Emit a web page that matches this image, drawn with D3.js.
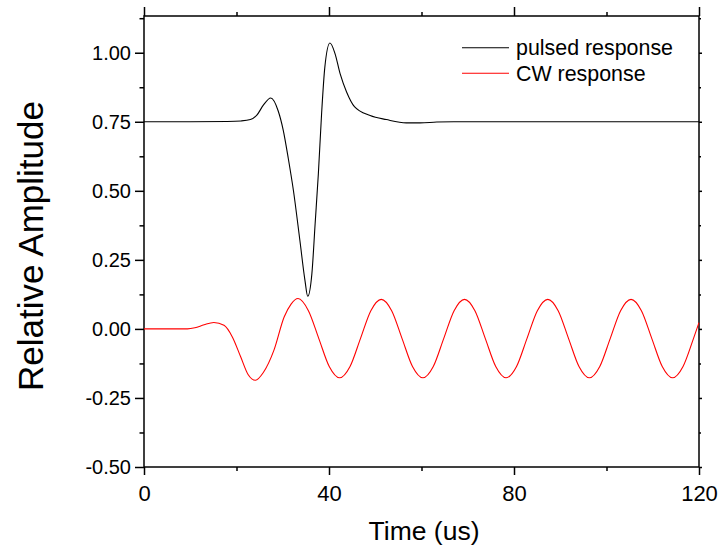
<!DOCTYPE html>
<html>
<head>
<meta charset="utf-8">
<script src="https://cdn.jsdelivr.net/npm/d3@7"></script>
<style>
  body { margin: 0; background: #fff; }
  text { font-family: "Liberation Sans", Arial, sans-serif; fill: #000; }
</style>
</head>
<body>
<div id="chart"></div>
<script>
// pulsed response (black)
var pulsedT = [0, 10, 18, 21, 23, 24.4, 25.8, 27.4, 29.0, 30.1, 31.2, 32.3, 33.7, 34.8, 35.4,
  36.3, 37.0, 37.7, 38.4, 39.1, 40.2, 41.3, 42.4, 43.8, 45.5, 48.9, 52.4, 56.7, 59.7, 63.3, 67, 120];
var pulsedV = [0.75, 0.75, 0.751, 0.753, 0.758, 0.774, 0.81, 0.836, 0.79, 0.72, 0.617, 0.502, 0.321, 0.176, 0.118,
  0.20, 0.381, 0.562, 0.78, 0.948, 1.035, 0.997, 0.924, 0.858, 0.805, 0.773, 0.758, 0.746, 0.746, 0.749, 0.75, 0.75];

// CW response (red)
var cwT = [0, 9.4, 11, 13, 15.1, 17.3, 19.1, 20.9, 22.5, 24.1, 25.8, 28.1, 30.3, 31.8, 33.3,
  35.55, 37.8, 40.05, 42.3, 44.55, 46.8, 49.05, 51.3,
  53.55, 55.8, 58.05, 60.3, 62.55, 64.8, 67.05, 69.3,
  71.55, 73.8, 76.05, 78.3, 80.55, 82.8, 85.05, 87.3,
  89.55, 91.8, 94.05, 96.3, 98.55, 100.8, 103.05, 105.3,
  107.55, 109.8, 112.05, 114.3, 116.55, 118.8, 120];
var cwV = [0, 0, 0.004, 0.015, 0.023, 0.013, -0.029, -0.101, -0.165, -0.186, -0.158, -0.077, 0.043, 0.09, 0.110,
  0.066, -0.035, -0.136, -0.177, -0.136, -0.035, 0.066, 0.107,
  0.066, -0.035, -0.136, -0.177, -0.136, -0.035, 0.066, 0.107,
  0.066, -0.035, -0.136, -0.177, -0.136, -0.035, 0.066, 0.107,
  0.066, -0.035, -0.136, -0.177, -0.136, -0.035, 0.066, 0.107,
  0.066, -0.035, -0.136, -0.177, -0.136, -0.035, 0.023];

var xTicks = [0, 40, 80, 120];
var xMinor = [20, 60, 100];
var yTicks = [-0.5, -0.25, 0, 0.25, 0.5, 0.75, 1.0];
var yMinor = [-0.375, -0.125, 0.125, 0.375, 0.625, 0.875, 1.125];
var seriesNames = ['pulsed response', 'CW response'];
var seriesColors = ['#000000', '#ff0000'];

var pLeft = 144, pTop = 16, pRight = 699, pBottom = 467;

var svg = d3.select('#chart').append('svg')
  .attr('width', 720).attr('height', 550);

var x = d3.scaleLinear().domain([0, 120]).range([pLeft, pRight]);
var y = d3.scaleLinear().domain([-0.5, 1.133]).range([pBottom, pTop]);

// plain hyphen for negatives, like the original
var loc = d3.formatLocale({decimal: '.', thousands: ',', grouping: [3], currency: ['', ''], minus: '-'});

// axes: major + minor ticks on all four sides, ticks pointing out
function drawAxis(axis, tr) {
  var g = svg.append('g').attr('transform', tr).call(axis);
  g.select('.domain').remove();
  g.selectAll('line').attr('stroke', '#000').attr('stroke-width', 1.5);
  return g;
}

var gx = drawAxis(d3.axisBottom(x).tickValues(xTicks).tickSize(8).tickPadding(10).tickFormat(loc.format('d')),
  'translate(0,' + pBottom + ')');
gx.selectAll('text').style('font-size', '22px');
drawAxis(d3.axisBottom(x).tickValues(xMinor).tickSize(4).tickFormat(''), 'translate(0,' + pBottom + ')');
drawAxis(d3.axisTop(x).tickValues(xTicks).tickSize(9).tickFormat(''), 'translate(0,' + pTop + ')');
drawAxis(d3.axisTop(x).tickValues(xMinor).tickSize(4).tickFormat(''), 'translate(0,' + pTop + ')');

var gy = drawAxis(d3.axisLeft(y).tickValues(yTicks).tickSize(9).tickPadding(4).tickFormat(loc.format('.2f')),
  'translate(' + pLeft + ',0)');
gy.selectAll('text').style('font-size', '20px');
drawAxis(d3.axisLeft(y).tickValues(yMinor).tickSize(4.5).tickFormat(''), 'translate(' + pLeft + ',0)');
drawAxis(d3.axisRight(y).tickValues(yTicks).tickSize(3).tickFormat(''), 'translate(' + pRight + ',0)');
drawAxis(d3.axisRight(y).tickValues(yMinor).tickSize(2).tickFormat(''), 'translate(' + pRight + ',0)');

svg.selectAll('.tick text').attr('fill', '#000');

svg.append('rect')
  .attr('x', pLeft).attr('y', pTop)
  .attr('width', pRight - pLeft).attr('height', pBottom - pTop)
  .attr('fill', 'none').attr('stroke', '#000').attr('stroke-width', 1.5);

var line = d3.line()
  .x(function(d) { return x(d[0]); })
  .y(function(d) { return y(d[1]); })
  .curve(d3.curveMonotoneX);

var series = [d3.zip(pulsedT, pulsedV), d3.zip(cwT, cwV)];

svg.selectAll('path.series')
  .data(series)
  .enter()
  .append('path')
  .attr('class', 'series')
  .attr('d', line)
  .attr('fill', 'none')
  .attr('stroke', function(d, i) { return seriesColors[i]; })
  .attr('stroke-width', 1.1);

// legend
var lg = svg.append('g');
seriesNames.forEach(function(name, i) {
  var ly = 47.7 + i * 25.6;
  lg.append('line')
    .attr('x1', 462).attr('x2', 509).attr('y1', ly).attr('y2', ly)
    .attr('stroke', seriesColors[i]).attr('stroke-width', 1.1);
  lg.append('text')
    .attr('x', 516).attr('y', ly + 7.5)
    .style('font-size', '21.4px')
    .text(name);
});

// axis titles
svg.append('text')
  .attr('x', 424).attr('y', 539.5)
  .attr('text-anchor', 'middle')
  .style('font-size', '26.5px')
  .text('Time (us)');

svg.append('text')
  .attr('transform', 'translate(43,246) rotate(-90)')
  .attr('text-anchor', 'middle')
  .style('font-size', '35px')
  .text('Relative Amplitude');
</script>
</body>
</html>
